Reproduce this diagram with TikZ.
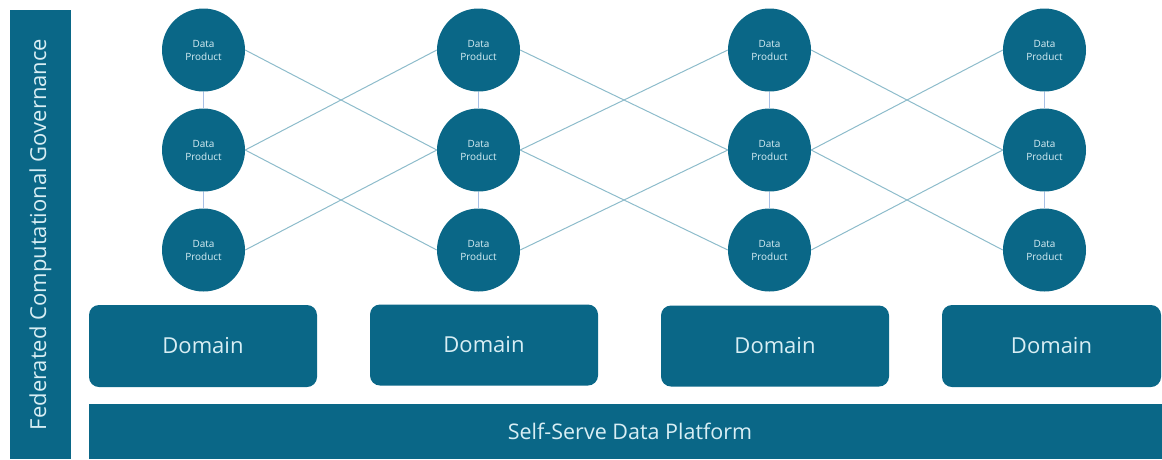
\documentclass[tikz,border=0pt]{standalone}
\usepackage{fontspec}
\setmainfont{Open Sans}
\definecolor{teal}{HTML}{0A6787}
\definecolor{txt}{HTML}{D8EEF4}
\definecolor{diag}{HTML}{8DBCCB}
\definecolor{vert}{HTML}{A9C0E6}
\tikzset{
  dp/.style={circle, fill=teal, minimum size=83pt, inner sep=0pt, text=txt, align=center, font=\fontsize{10}{13}\selectfont},
  dom/.style={rounded corners=10pt, fill=teal, text=txt, font=\fontsize{22}{26}\selectfont},
  bar/.style={fill=teal, text=txt},
  dline/.style={diag, line width=1pt},
  vline/.style={vert, line width=1.3pt},
}
\begin{document}
\begin{tikzpicture}[x=1pt,y=-1pt]
\useasboundingbox (0,0) rectangle (1162,459);
% governance bar
\node[bar, minimum width=449pt, minimum height=61pt, inner sep=0pt, rotate=90, font=\fontsize{22}{26}\selectfont] (gov) at (40.5,234.5) {Federated Computational Governance};
% platform
\node[bar, minimum width=1073pt, minimum height=55pt, inner sep=0pt, font=\fontsize{21.5}{26}\selectfont] (plat) at (625.5,431.5) {\hspace{9pt}\raisebox{-3pt}{Self-Serve Data Platform}};
% domains
\node[dom, minimum width=228pt, minimum height=82pt] (d1) at (203,346) {\raisebox{-2pt}{Domain}};
\node[dom, minimum width=228pt, minimum height=81pt] (d2) at (484,345) {\raisebox{-2pt}{Domain}};
\node[dom, minimum width=228pt, minimum height=81pt] (d3) at (775,346) {\raisebox{-2pt}{Domain}};
\node[dom, minimum width=219pt, minimum height=82pt] (d4) at (1051.5,346) {\raisebox{-2pt}{Domain}};
% data products
\foreach \c/\x in {1/203.5,2/478.5,3/769.5,4/1044.5}{
  \foreach \r/\y in {1/50,2/150,3/250}{
    \node[dp] (p\c\r) at (\x,\y) {Data\\Product};
  }
}
% vertical links
\foreach \c in {1,2,3,4}{
  \draw[vline] (p\c1.south) -- (p\c2.north);
  \draw[vline] (p\c2.south) -- (p\c3.north);
}
% diagonal links
\foreach \a/\b in {1/2,2/3,3/4}{
  \draw[dline] (p\a1.east) -- (p\b2.west);
  \draw[dline] (p\a2.east) -- (p\b1.west);
  \draw[dline] (p\a2.east) -- (p\b3.west);
  \draw[dline] (p\a3.east) -- (p\b2.west);
}
\end{tikzpicture}
\end{document}
